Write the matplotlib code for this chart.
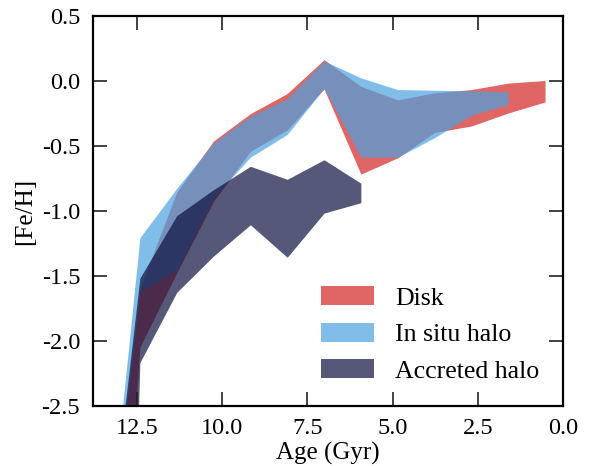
import numpy as np
import matplotlib
matplotlib.use("Agg")
import matplotlib.pyplot as plt

plt.rcParams['font.family'] = ['Liberation Serif', 'DejaVu Serif']
plt.rcParams['axes.unicode_minus'] = False

# age bins (Gyr)
ages = [0.52, 1.60, 2.68, 3.76, 4.84, 5.92, 7.00, 8.08, 9.16, 10.24, 11.32, 12.40, 13.48]

nan = np.nan
disk_hi = [0.0, -0.02, -0.07, -0.095, -0.15, -0.045, 0.16, -0.10, -0.255, -0.465, -0.86, -1.60, -4.06]
disk_lo = [-0.165, -0.25, -0.35, -0.40, -0.595, -0.72, -0.065, -0.38, -0.545, -0.93, -1.48, -2.05, -6.1]

insitu_hi = [nan, -0.087, -0.08, -0.075, -0.07, 0.02, 0.15, -0.14, -0.275, -0.48, -0.83, -1.21, -3.97]
insitu_lo = [nan, -0.185, -0.267, -0.44, -0.59, -0.59, -0.06, -0.415, -0.59, -0.90, -1.46, -1.62, -4.1]

accr_hi = [nan, nan, nan, nan, nan, -0.79, -0.61, -0.76, -0.66, -0.84, -1.04, -1.52, -3.96]
accr_lo = [nan, nan, nan, nan, nan, -0.94, -1.02, -1.36, -1.11, -1.35, -1.63, -2.17, -12.0]

labels = ['Disk', 'In situ halo', 'Accreted halo']
colors = ['#d32424', '#4aa1e1', '#0d1141']

fig = plt.figure(figsize=(5.9, 4.66), dpi=100)
ax = fig.add_axes([0.157, 0.1288, 0.7977, 0.8369])

bands = [(disk_hi, disk_lo), (insitu_hi, insitu_lo), (accr_hi, accr_lo)]
for (hi, lo), c, lab in zip(bands, colors, labels):
    ax.fill_between(ages, np.array(hi), np.array(lo), color=c, alpha=0.7,
                    linewidth=0, label=lab)

ax.set_xlim(13.8, 0)
ax.set_ylim(-2.5, 0.5)
ax.set_xticks([12.5, 10.0, 7.5, 5.0, 2.5, 0.0])
ax.set_yticks([-2.5, -2.0, -1.5, -1.0, -0.5, 0.0, 0.5])

ax.tick_params(direction='in', length=10, width=1.2, color='#222222',
               top=True, right=True, labelsize=17.5, pad=9)
for s in ax.spines.values():
    s.set_linewidth(1.6)

ax.set_xlabel('Age (Gyr)', fontsize=18, labelpad=2)
ax.set_ylabel('[Fe/H]', fontsize=18)

ax.legend(loc='lower right', bbox_to_anchor=(0.998, 0.0), frameon=False,
          fontsize=18.6, handlelength=2.05, handleheight=0.75, labelspacing=0.5)

fig.savefig('out.png', dpi=100)
